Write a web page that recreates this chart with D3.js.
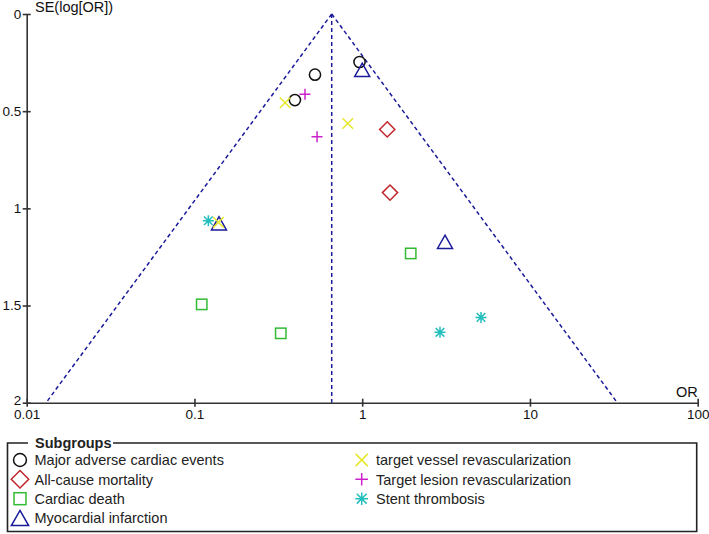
<!DOCTYPE html>
<html>
<head>
<meta charset="utf-8">
<script src="https://cdn.jsdelivr.net/npm/d3@7"></script>
<style>
  html, body { margin: 0; padding: 0; background: #fff; }
  svg { display: block; font-family: "Liberation Sans", Arial, sans-serif; }
</style>
</head>
<body>
<svg id="chart" width="709" height="534"></svg>
<script>
// ---- data ----
const subgroups = [
  "Major adverse cardiac events",
  "All-cause mortality",
  "Cardiac death",
  "Myocardial infarction",
  "target vessel revascularization",
  "Target lesion revascularization",
  "Stent thrombosis"
];
const shapes = ["circle", "diamond", "square", "triangle", "cross", "plus", "asterisk"];
const colors = ["#111111", "#C0282D", "#33BB33", "#1A1A9A", "#E6E62A", "#CC22CC", "#22BDBD"];

const maceOR = [0.964, 0.523, 0.397];
const maceSE = [0.247, 0.312, 0.443];
const mortOR = [1.41, 1.465];
const mortSE = [0.594, 0.919];
const cdOR = [1.946, 0.1105, 0.327];
const cdSE = [1.232, 1.494, 1.643];
const miOR = [1.0, 0.140, 3.116];
const miSE = [0.287, 1.077, 1.172];
const tvrOR = [0.347, 0.82, 0.139];
const tvrSE = [0.4565, 0.5636, 1.072];
const tlrOR = [0.456, 0.538];
const tlrSE = [0.413, 0.6315];
const stOR = [0.121, 5.108, 2.909];
const stSE = [1.064, 1.561, 1.638];

const pooledOR = 0.658;

const xTicks = [0.01, 0.1, 1, 10, 100];
const xTickLabels = ["0.01", "0.1", "1", "10", "100"];
const yTicks = [0, 0.5, 1, 1.5, 2];
const yTickLabels = ["0", "0.5", "1", "1.5", "2"];

const seriesOR = [maceOR, mortOR, cdOR, miOR, tvrOR, tlrOR, stOR];
const seriesSE = [maceSE, mortSE, cdSE, miSE, tvrSE, tlrSE, stSE];

// ---- layout ----
const svg = d3.select("#chart");
const x = d3.scaleLog().domain([0.01, 100]).range([26.7, 697.7]);
const y = d3.scaleLinear().domain([0, 2]).range([14, 402.7]);
const axisColor = "#333";

// funnel
const funnel = svg.append("g")
  .attr("fill", "none").attr("stroke", "#1A1A9A")
  .attr("stroke-width", 1.5).attr("stroke-dasharray", "4,3");
const lnP = Math.log(pooledOR);
const seMax = 2;
funnel.append("line")
  .attr("x1", x(pooledOR)).attr("y1", y(0))
  .attr("x2", x(Math.exp(lnP - 1.96 * seMax))).attr("y2", y(seMax));
funnel.append("line")
  .attr("x1", x(pooledOR)).attr("y1", y(0))
  .attr("x2", x(Math.exp(lnP + 1.96 * seMax))).attr("y2", y(seMax));
funnel.append("line")
  .attr("x1", x(pooledOR)).attr("y1", y(0))
  .attr("x2", x(pooledOR)).attr("y2", y(seMax));

// axes
const xAxis = svg.append("g")
  .attr("transform", `translate(0,${y(2)})`)
  .call(d3.axisBottom(x).tickValues(xTicks).tickFormat((d, i) => xTickLabels[i]).tickSize(4).tickPadding(2).tickSizeOuter(0));
xAxis.select(".domain").attr("stroke", axisColor).attr("stroke-width", 1.6);
xAxis.selectAll(".tick line").attr("stroke", axisColor).attr("stroke-width", 1.6).attr("y1", -4).attr("y2", 4);
xAxis.selectAll(".tick text").attr("font-size", 13.5).attr("fill", "#111").attr("font-family", "Liberation Sans, Arial, sans-serif").attr("dy", "0.78em");

const yAxis = svg.append("g")
  .attr("transform", `translate(${x(0.01)},0)`)
  .call(d3.axisLeft(y).tickValues(yTicks).tickFormat((d, i) => yTickLabels[i]).tickSize(4).tickPadding(1.5).tickSizeOuter(0));
yAxis.select(".domain").attr("stroke", axisColor).attr("stroke-width", 1.6);
yAxis.selectAll(".tick line").attr("stroke", axisColor).attr("stroke-width", 1.6).attr("x1", -4).attr("x2", 4);
yAxis.selectAll(".tick text").attr("font-size", 13.5).attr("fill", "#111").attr("font-family", "Liberation Sans, Arial, sans-serif")
  .attr("dy", d => d === 2 ? "0.1em" : "0.32em");

svg.append("text").attr("x", 35).attr("y", 12).attr("font-size", 14.5).attr("fill", "#111").text("SE(log[OR])");
svg.append("text").attr("x", 697.7).attr("y", 396.5).attr("text-anchor", "end").attr("font-size", 14.5).attr("fill", "#111").text("OR");

// marker drawing
function drawMarker(g, shape, color, s) {
  const sw = 1.5;
  const p = g.append("g").attr("fill", "none").attr("stroke", color).attr("stroke-width", sw);
  if (shape === "circle") {
    p.append("circle").attr("r", 5.6 * s);
  } else if (shape === "diamond") {
    const h = 7.6 * s;
    p.append("path").attr("d", `M0,${-h}L${h},0L0,${h}L${-h},0Z`);
  } else if (shape === "square") {
    const h = 5.2 * s;
    p.append("rect").attr("x", -h).attr("y", -h).attr("width", 2 * h).attr("height", 2 * h);
  } else if (shape === "triangle") {
    const w = 7.5 * s, h = 6.6 * s;
    p.append("path").attr("d", `M0,${-h}L${w},${h}L${-w},${h}Z`);
  } else if (shape === "cross") {
    const h = 5.3 * s;
    p.append("path").attr("d", `M${-h},${-h}L${h},${h}M${-h},${h}L${h},${-h}`);
  } else if (shape === "plus") {
    const h = 5.5 * s;
    p.append("path").attr("d", `M${-h},0L${h},0M0,${-h}L0,${h}`);
  } else if (shape === "asterisk") {
    const h = 5.5 * s, d = 4.3 * s;
    p.append("path").attr("d", `M${-h},0L${h},0M0,${-h}L0,${h}M${-d},${-d}L${d},${d}M${-d},${d}L${d},${-d}`);
  }
}

// points
const pts = svg.append("g");
seriesOR.forEach((ors, si) => {
  ors.forEach((or, i) => {
    const g = pts.append("g").attr("transform", `translate(${x(or)},${y(seriesSE[si][i])})`);
    drawMarker(g, shapes[si], colors[si], 1);
  });
});

// legend
const lg = svg.append("g");
const lx0 = 7.5, lx1 = 696.7, ly0 = 443, ly1 = 531.5;
lg.append("path")
  .attr("d", `M28,${ly0}L${lx0},${ly0}L${lx0},${ly1}L${lx1},${ly1}L${lx1},${ly0}L113,${ly0}`)
  .attr("fill", "none").attr("stroke", "#222").attr("stroke-width", 1.6);
lg.append("text").attr("x", 35).attr("y", 448).attr("font-size", 14.5).attr("font-weight", "bold").attr("fill", "#222").text("Subgroups");

const rowY = [460, 479.3, 498.7, 518];
subgroups.forEach((name, i) => {
  const col = i < 4 ? 0 : 1;
  const row = i < 4 ? i : i - 4;
  const sx = col === 0 ? 20 : 361.7;
  const tx = col === 0 ? 34.5 : 376;
  const g = lg.append("g").attr("transform", `translate(${sx},${rowY[row]})`);
  drawMarker(g, shapes[i], colors[i], 1.15);
  lg.append("text").attr("x", tx).attr("y", rowY[row] + 5.2).attr("font-size", 14.5).attr("fill", "#222").text(name);
});
</script>
</body>
</html>
